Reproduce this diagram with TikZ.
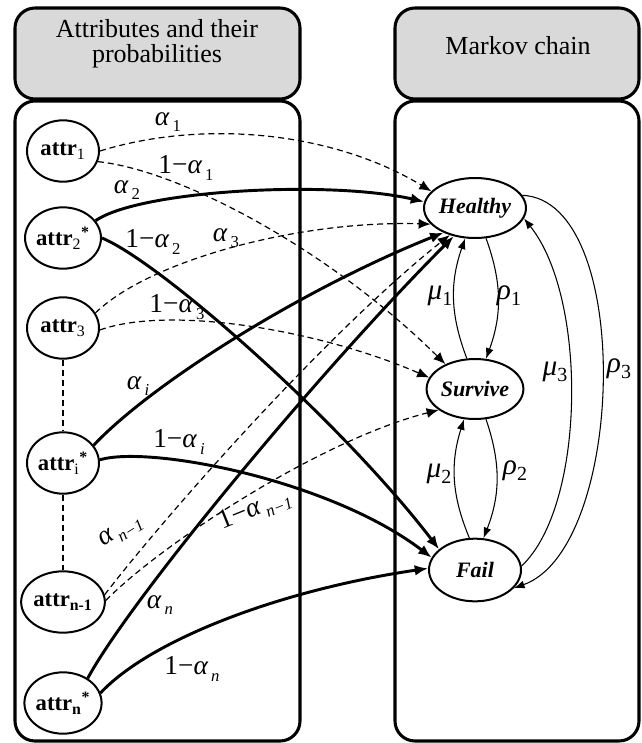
\documentclass[tikz,border=0pt]{standalone}
\usepackage{fontspec}
\setmainfont{Liberation Serif}
\usetikzlibrary{arrows.meta,shapes.geometric}
% Greek label with a spaced, lowered index
\newcommand\gsub[2]{{\itshape #1}\kern2.5pt\raisebox{-0.5ex}{\fontsize{12.5}{12.5}\selectfont #2}}
% Greek label with a tight index (transition rates)
\newcommand\rsub[2]{{\itshape #1}\raisebox{-0.45ex}{\fontsize{15}{15}\selectfont #2}}
\begin{document}
\begin{tikzpicture}[x=0.75pt,y=-0.75pt,
  panel/.style={draw=black, line width=2.3pt, rounded corners=15pt},
  hdr/.style={panel, fill=black!15},
  htext/.style={align=center, inner sep=0pt, font=\fontsize{19.5}{18.8}\selectfont},
  attr/.style={ellipse, draw, line width=1.5pt, minimum width=54pt, minimum height=46pt,
    inner sep=0pt, font=\fontsize{17}{17}\selectfont\bfseries},
  state/.style={ellipse, draw, line width=1.5pt, minimum width=69pt, minimum height=45pt,
    inner sep=0pt, font=\fontsize{16.5}{16.5}\selectfont\bfseries\itshape},
  strong/.style={-{Latex[length=10pt,width=8pt]}, line width=2.2pt},
  weak/.style={-{Latex[length=9pt,width=7.5pt]}, line width=0.9pt, dash pattern=on 4.5pt off 3pt},
  trans/.style={-{Latex[length=8pt,width=6pt]}, line width=0.8pt},
  lab/.style={inner sep=0pt, font=\fontsize{20.5}{20.5}\selectfont},
  rlab/.style={inner sep=0pt, font=\fontsize{22}{22}\selectfont},
]
\useasboundingbox (0,0) rectangle (642,743);

% panels and their headers
\draw[panel] (15,101) rectangle (300,741);
\draw[panel] (395,101) rectangle (639,741);
\draw[hdr] (15,8) rectangle (300,99);
\draw[hdr] (395,8) rectangle (639,99);
\node[htext] (hl) at (157,44) {Attributes and their\\probabilities};
\node[htext] (hr) at (518,46) {Markov chain};

% attributes
\node[attr] (a1)  at (63,151) {attr\textsubscript{\mdseries 1}};
\node[attr] (a2)  at (63,238) {attr\textsubscript{\mdseries 2}\textsuperscript{*}};
\node[attr] (a3)  at (63,328) {attr\textsubscript{\mdseries 3}};
\node[attr] (ai)  at (63,463) {attr\textsubscript{\mdseries i}\textsuperscript{*}};
\node[attr] (an1) at (63,602) {attr\textsubscript{n-1}};
\node[attr] (an)  at (63,703) {attr\textsubscript{n}\textsuperscript{*}};
\draw[line width=0.9pt, dash pattern=on 4.5pt off 3pt] (a3) -- (ai);
\draw[line width=0.9pt, dash pattern=on 4.5pt off 3pt] (ai) -- (an1);

% states of the chain
\node[state] (H) at (475,208) {Healthy};
\node[state] (S) at (475,389) {Survive};
\node[state, minimum height=47pt] (F) at (475,570) {Fail};

% attribute probabilities
\draw[weak]   (a1.east) .. controls (200,120) and (330,130) .. (H.159);
\draw[weak]   (a1.-17)  .. controls (180,170) and (330,250) .. (S.140);
\draw[strong] (a2.28)   .. controls (140,190) and (330,180) .. (H.173);
\draw[strong] (a2.east) .. controls (160,262) and (340,420) .. (F.150);
\draw[weak]   (a3.25)   .. controls (150,260) and (300,220) .. (H.200);
\draw[weak]   (a3.-3)   .. controls (170,305) and (320,330) .. (S.166);
\draw[strong] (ai.30)   .. controls (150,385) and (300,290) .. (H.218);
\draw[strong] (ai.5)    .. controls (150,445) and (330,480) .. (F.164);
\draw[weak]   (an1.10)  .. controls (170,510) and (330,330) .. (H.227);
\draw[weak]   (an1.2)   .. controls (160,545) and (320,440) .. (S.210);
\draw[strong] (an.45)   .. controls (130,600) and (320,370) .. (H.233);
\draw[strong] (an.15)   .. controls (150,640) and (280,590) .. (F.178);

\node[lab] (la1)  at (168,122) {\gsub{α}{1}};
\node[lab] (lb1)  at (186,168) {1−\gsub{α}{1}};
\node[lab] (la2)  at (127,190) {\gsub{α}{2}};
\node[lab] (lb2)  at (153,242) {1−\gsub{α}{2}};
\node[lab] (la3)  at (226,238) {\gsub{α}{3}};
\node[lab] (lb3)  at (177,307) {1−\gsub{α}{3}};
\node[lab] (lai)  at (138,386) {\gsub{α}{\itshape i}};
\node[lab] (lbi)  at (179,442) {1−\gsub{α}{\itshape i}};
\node[lab, rotate=32] (lan1) at (121,532) {\gsub{α}{\itshape n−1}};
\node[lab, rotate=22] (lbn1) at (255,510) {1−\gsub{α}{\itshape n−1}};
\node[lab] (lan)  at (160,605) {\gsub{α}{\itshape n}};
\node[lab] (lbn)  at (192,669) {1−\gsub{α}{\itshape n}};

% transitions between states
\draw[trans] (S.105) to[bend left=20] (H.252);
\draw[trans] (H.290) to[bend left=20] (S.70);
\draw[trans] (F.100) to[bend left=20] (S.250);
\draw[trans] (S.290) to[bend left=20] (F.75);
\draw[trans] (F.5)   .. controls +(64,-60) and +(64,80) .. (H.-12);
\draw[trans] (H.15)  .. controls +(112,5) and +(112,-40) .. (F.-25);

\node[rlab] (m1) at (440,296) {\rsub{μ}{1}};
\node[rlab] (r1) at (509,296) {\rsub{ρ}{1}};
\node[rlab] (m2) at (439,474) {\rsub{μ}{2}};
\node[rlab] (r2) at (515,471) {\rsub{ρ}{2}};
\node[rlab] (m3) at (555,372) {\rsub{μ}{3}};
\node[rlab] (r3) at (619,369) {\rsub{ρ}{3}};
\end{tikzpicture}
\end{document}
